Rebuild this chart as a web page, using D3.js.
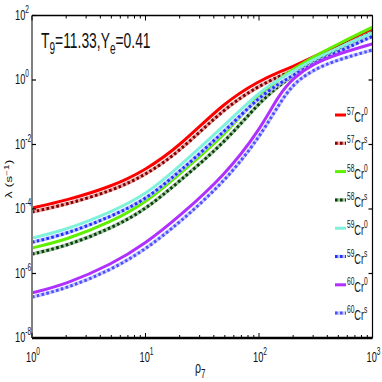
<!DOCTYPE html>
<html><head><meta charset="utf-8">
<script src="https://cdn.jsdelivr.net/npm/d3@7"></script>
<style>
body{margin:0;background:#fff}
svg{display:block}
text{font-family:"Liberation Sans",Arial,Helvetica,sans-serif;fill:#111}
</style></head><body>
<svg id="c" width="382" height="382"></svg>
<script>
const rho = [1, 2, 5, 10, 20, 50, 100, 150, 200, 300, 500, 1000];
const cr57_0 = [1.07e-4, 1.85e-4, 4.9e-4, 1.6e-3, 8.9e-3, 0.21, 0.93, 1.78, 2.6, 5.2, 12, 35.5];
const cr57_s = [8.1e-5, 1.38e-4, 3.6e-4, 1.12e-3, 6.0e-3, 0.138, 0.66, 1.29, 1.95, 4.0, 9.5, 29.5];
const cr58_0 = [6.2e-6, 1.1e-5, 4.0e-5, 1.55e-4, 1.23e-3, 0.0195, 0.34, 1.07, 2.14, 5.25, 13.2, 43.7];
const cr58_s = [4.0e-6, 7.1e-6, 2.5e-5, 9.5e-5, 7.4e-4, 0.0115, 0.2, 0.66, 1.41, 3.6, 9.5, 30.2];
const cr59_0 = [1.26e-5, 2.24e-5, 8.1e-5, 2.7e-4, 2.14e-3, 0.04, 0.43, 1.05, 1.9, 4.3, 10, 28.8];
const cr59_s = [9.3e-6, 1.66e-5, 5.9e-5, 1.9e-4, 1.45e-3, 0.026, 0.295, 0.76, 1.41, 3.16, 7.6, 22.4];
const cr60_0 = [2.5e-7, 4.7e-7, 1.9e-6, 8.5e-6, 6.0e-5, 1.12e-3, 0.026, 0.355, 1.15, 3.2, 6.5, 13.2];
const cr60_s = [1.86e-7, 3.4e-7, 1.3e-6, 5.5e-6, 3.8e-5, 7.1e-4, 0.0158, 0.178, 0.76, 2.1, 4.3, 8.5];
const seriesNames = ["57", "57", "58", "58", "59", "59", "60", "60"];
const seriesSup = ["0", "s", "0", "s", "0", "s", "0", "s"];
const xTickExps = [0, 1, 2, 3];
const yTickExps = [2, 0, -2, -4, -6, -8];

const series = [
  {v: cr57_0, c: "#ff0000", dot: false},
  {v: cr57_s, c: "#800000", light: "#e8a0a0", dot: true},
  {v: cr58_0, c: "#5ef000", dot: false},
  {v: cr58_s, c: "#0f3d0f", light: "#a0c8a0", dot: true},
  {v: cr59_0, c: "#80f2dc", dot: false},
  {v: cr59_s, c: "#2233ff", light: "#b8c0ff", dot: true},
  {v: cr60_0, c: "#b030ff", dot: false},
  {v: cr60_s, c: "#5050ff", light: "#c8c8ff", dot: true}
];

const SX = 0.66; // horizontal compression of the text
const svg = d3.select("#c");
const L = 32, R = 372.5, T = 15.5, B = 338;
const x = d3.scaleLog().domain([1, 1000]).range([L, R]);
const y = d3.scaleLog().domain([1e-8, 1e2]).range([B, T]);

const g = svg.append("g");
svg.append("clipPath").attr("id", "cp").append("rect")
  .attr("x", L).attr("y", T).attr("width", R - L).attr("height", B - T);

function txt(px, py, size, anchor, sx) {
  return g.append("g").attr("transform", `translate(${px},${py}) scale(${sx || SX},1)`)
    .append("text").attr("font-size", size).attr("text-anchor", anchor || "start");
}

const line = d3.line().x(d => x(d[0])).y(d => y(d[1])).curve(d3.curveBasis);
const plot = g.append("g").attr("clip-path", "url(#cp)");
series.forEach(s => {
  const pts = rho.map((r, i) => [r, s.v[i]]);
  if (s.dot) {
    plot.append("path").attr("d", line(pts)).attr("fill", "none")
      .attr("stroke", s.light).attr("stroke-width", 3.6);
    plot.append("path").attr("d", line(pts)).attr("fill", "none")
      .attr("stroke", s.c).attr("stroke-width", 3).attr("stroke-dasharray", "2.6,2.4");
  } else {
    plot.append("path").attr("d", line(pts)).attr("fill", "none")
      .attr("stroke", s.c).attr("stroke-width", 3);
  }
});

// frame
g.append("line").attr("x1", L).attr("x2", R).attr("y1", T).attr("y2", T).attr("stroke", "#000").attr("stroke-width", 1.5);
g.append("line").attr("x1", R).attr("x2", R).attr("y1", T).attr("y2", B).attr("stroke", "#000").attr("stroke-width", 1.2);
g.append("line").attr("x1", L).attr("x2", R).attr("y1", B).attr("y2", B).attr("stroke", "#000").attr("stroke-width", 2.5);
g.append("line").attr("x1", L).attr("x2", L).attr("y1", T).attr("y2", B).attr("stroke", "#808080").attr("stroke-width", 2);

// x ticks (major + minor) on bottom & top
x.ticks().forEach(t => {
  const major = Math.abs(Math.log10(t) - Math.round(Math.log10(t))) < 1e-9;
  const len = major ? 5 : 3;
  g.append("line").attr("x1", x(t)).attr("x2", x(t)).attr("y1", B).attr("y2", B - len).attr("stroke", "#000").attr("stroke-width", 1);
  g.append("line").attr("x1", x(t)).attr("x2", x(t)).attr("y1", T).attr("y2", T + len).attr("stroke", "#000").attr("stroke-width", 1);
});
yTickExps.forEach(e => {
  const yy = y(Math.pow(10, e));
  g.append("line").attr("x1", L).attr("x2", L + 4).attr("y1", yy).attr("y2", yy).attr("stroke", "#000").attr("stroke-width", 1.2);
  g.append("line").attr("x1", R).attr("x2", R - 4).attr("y1", yy).attr("y2", yy).attr("stroke", "#000").attr("stroke-width", 1.2);
});

// tick labels
xTickExps.forEach(e => {
  const xx = x(Math.pow(10, e));
  const t = txt(xx - 6, 362, 14);
  t.append("tspan").text("10");
  t.append("tspan").attr("dy", -7).attr("font-size", 10).text(e);
});
yTickExps.forEach(e => {
  const yy = y(Math.pow(10, e));
  const t = txt(15, yy + 4, 14);
  t.append("tspan").text("10");
  t.append("tspan").attr("dy", -7).attr("font-size", 10).text(e);
});

// axis labels
const yl = g.append("g").attr("transform", "translate(12,179) rotate(-90) scale(1," + SX + ")")
  .append("text").attr("text-anchor", "middle").attr("font-size", 14);
yl.append("tspan").text("λ (s");
yl.append("tspan").attr("dy", -5).attr("font-size", 10).text("−1");
yl.append("tspan").attr("dy", 5).text(")");
const xl = txt(195, 373, 16);
xl.append("tspan").text("ρ");
xl.append("tspan").attr("dy", 5).attr("font-size", 12).text("7");

// title
const tt = txt(41, 48, 22, "start", 0.63);
tt.append("tspan").text("T");
tt.append("tspan").attr("dy", 6).attr("font-size", 16).text("9");
tt.append("tspan").attr("dy", -6).text("=11.33,Y");
tt.append("tspan").attr("dy", 6).attr("font-size", 16).text("e");
tt.append("tspan").attr("dy", -6).text("=0.41");

// legend
series.forEach((s, i) => {
  const yy = 115 + i * 28.3;
  if (s.dot) {
    g.append("line").attr("x1", 335).attr("x2", 346).attr("y1", yy).attr("y2", yy).attr("stroke", s.light).attr("stroke-width", 3.4);
    g.append("line").attr("x1", 335).attr("x2", 346).attr("y1", yy).attr("y2", yy).attr("stroke", s.c).attr("stroke-width", 3).attr("stroke-dasharray", "2.6,2.4");
  } else {
    g.append("line").attr("x1", 335).attr("x2", 346).attr("y1", yy).attr("y2", yy).attr("stroke", s.c).attr("stroke-width", 3);
  }
  const t = txt(347, yy + 7, 14);
  t.append("tspan").attr("dy", -7).attr("font-size", 10).text(seriesNames[i]);
  t.append("tspan").attr("dy", 7).text("Cr");
  t.append("tspan").attr("dy", -7).attr("font-size", 10).text(seriesSup[i]);
});
</script></body></html>
